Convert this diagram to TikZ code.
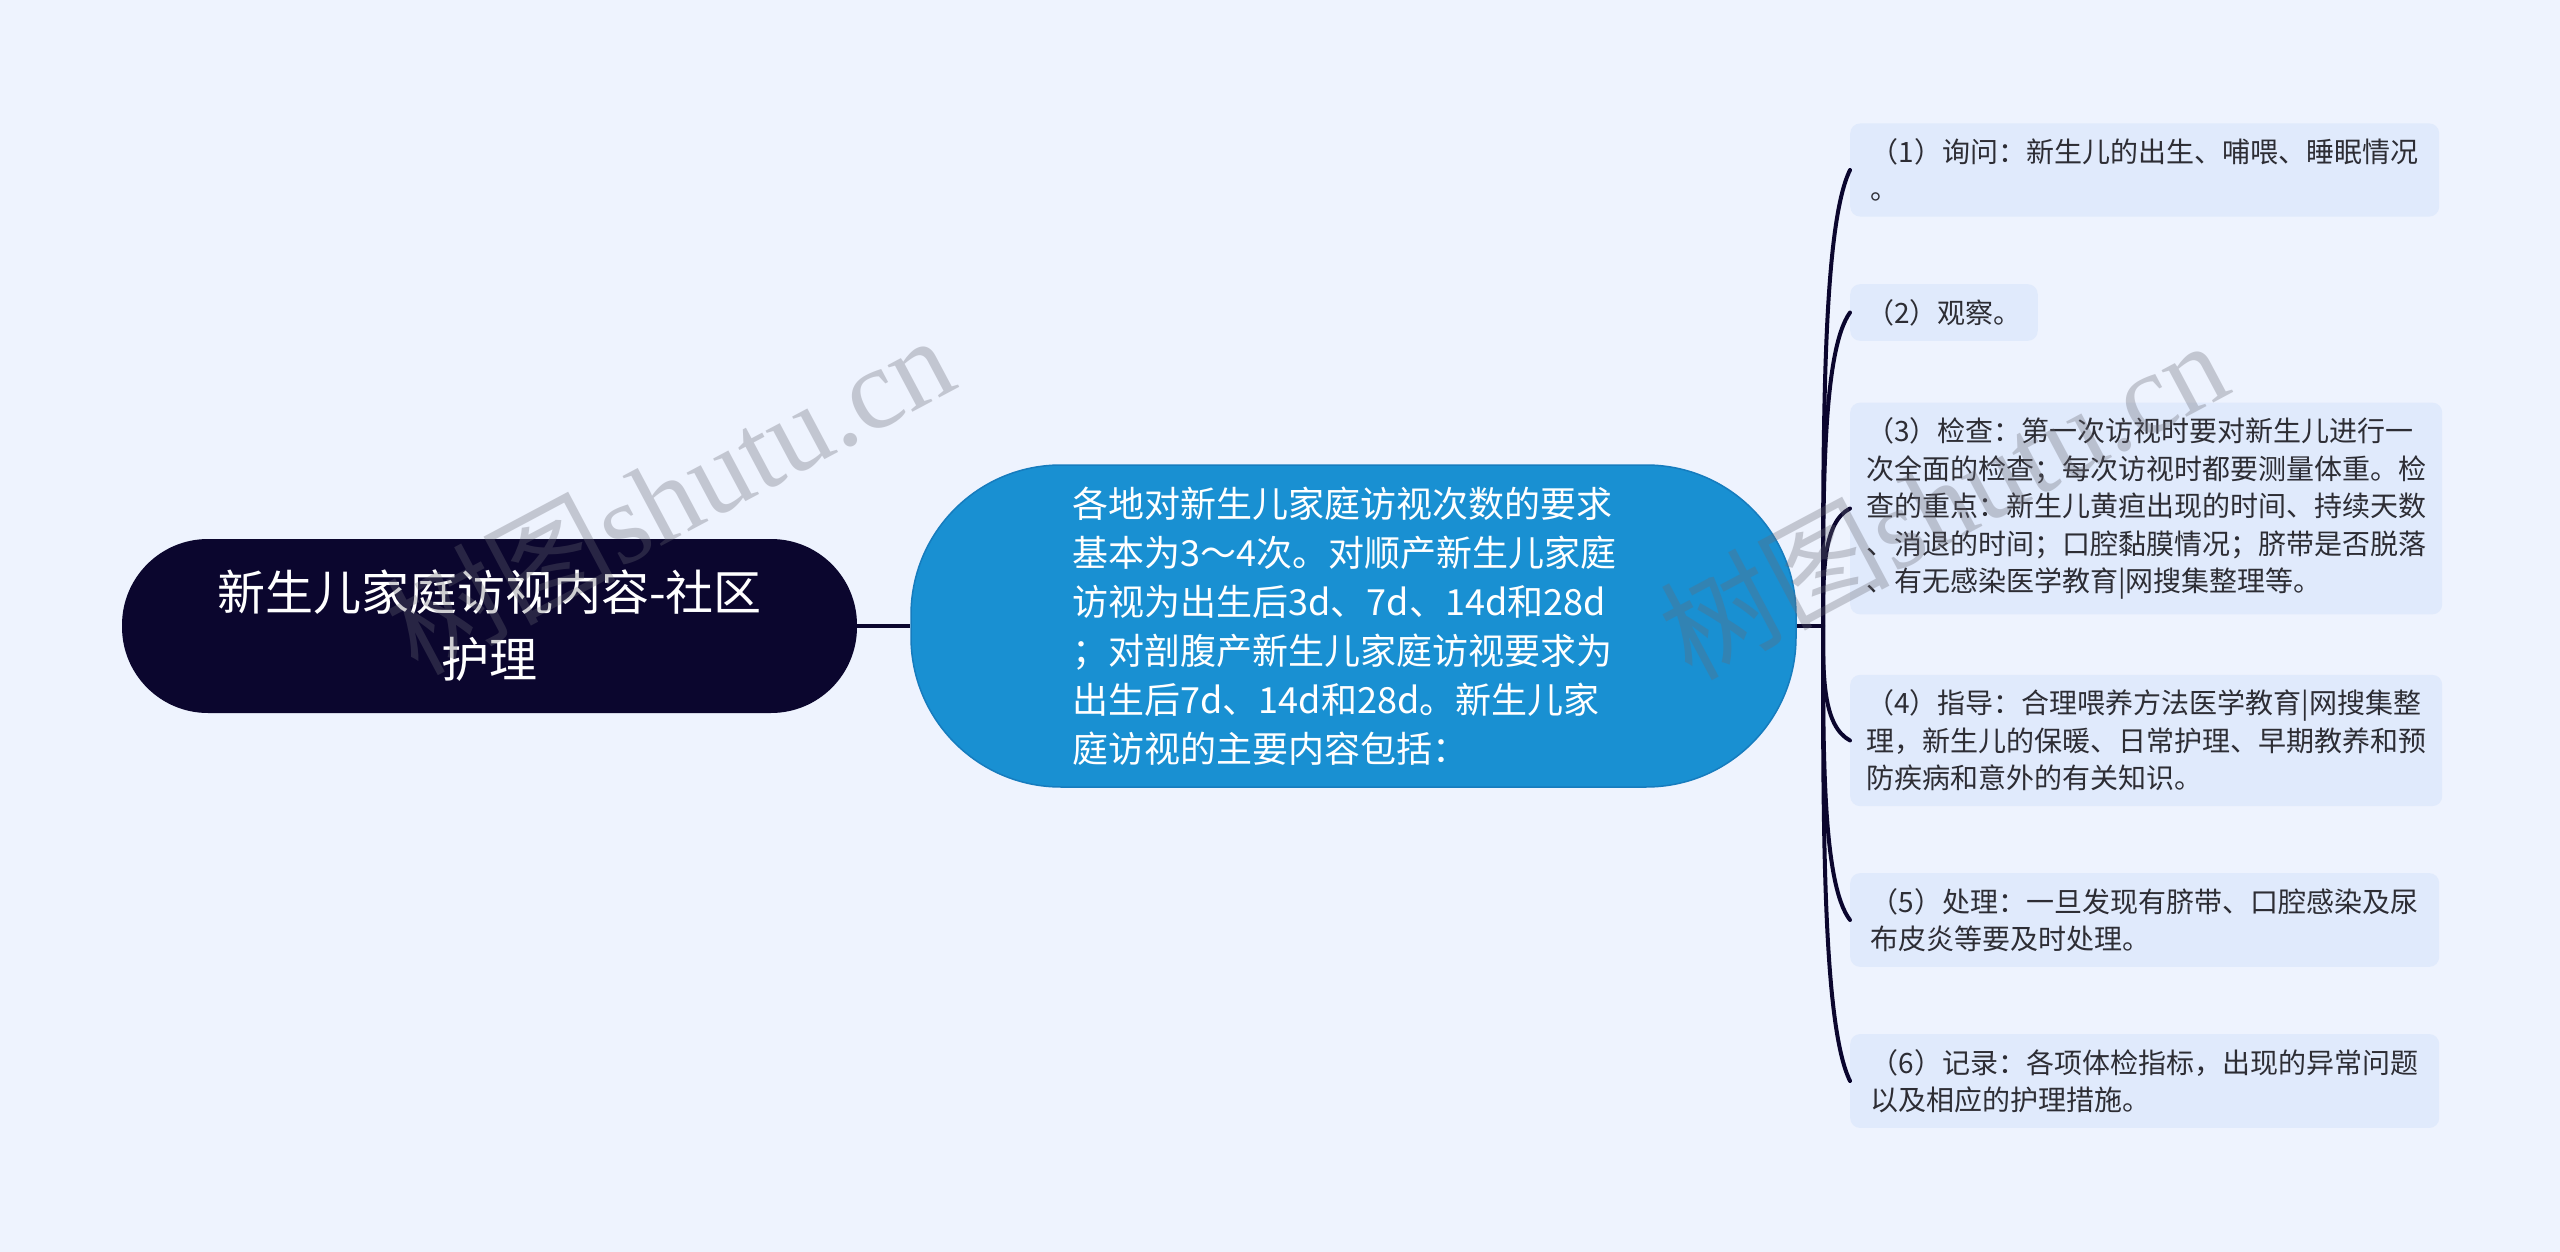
\documentclass[tikz,border=0pt]{standalone}
\usepackage{fontspec}
\newfontfamily\cjk{Noto Sans CJK SC}
\newfontfamily\wmserif{Liberation Serif}
\definecolor{bg}{RGB}{238,243,254}
\definecolor{navy}{RGB}{11,6,46}
\definecolor{cblue}{RGB}{25,144,210}
\definecolor{cborder}{RGB}{22,124,190}
\definecolor{boxfill}{RGB}{224,234,252}
\definecolor{txt}{RGB}{45,45,52}
\definecolor{wm}{RGB}{104,104,115}
\begin{document}
\begin{tikzpicture}[x=1pt,y=-1pt,
  rootnode/.style={fill=navy, rounded corners=86pt, minimum width=735pt, minimum height=174pt,
    text=white, align=center, inner sep=0pt, font=\cjk\fontsize{48}{67}\selectfont},
  midnode/.style={fill=cblue, draw=cborder, line width=1.5pt, rounded corners=150pt,
    minimum width=885pt, minimum height=322pt, text=white, align=left, inner sep=0pt,
    text width=562pt, font=\cjk\fontsize{36}{49}\selectfont},
  leafbox/.style={fill=boxfill, rounded corners=10pt, inner xsep=16pt, inner ysep=15pt,
    align=left, anchor=west, text=txt, font=\cjk\fontsize{28}{37.5}\selectfont},
  wide/.style={minimum width=589pt},
  link/.style={draw=navy, line width=4pt},
  branch/.style={draw=navy, line width=4pt, line cap=round},
  wmark/.style={text=wm, text opacity=0.32, font=\fontsize{115}{120}\selectfont, inner sep=0pt}
]
\useasboundingbox[fill=bg] (0,0) rectangle (2560,1252);

\node[rootnode] (root) at (489.5,626) {新生儿家庭访视内容-社区\\护理};
\node[midnode] (mid) at (1353.5,626) {各地对新生儿家庭访视次数的要求\\基本为3～4次。对顺产新生儿家庭\\访视为出生后3d、7d、14d和28d\\；对剖腹产新生儿家庭访视要求为\\出生后7d、14d和28d。新生儿家\\庭访视的主要内容包括：};

\node[leafbox, wide] (b1) at (1850,170) {（1）询问：新生儿的出生、哺喂、睡眠情况\\。};
\node[leafbox] (b2) at (1850,312.5) {（2）观察。};
\node[leafbox, wide] (b3) at (1850,508.5) {（3）检查：第一次访视时要对新生儿进行一\\次全面的检查；每次访视时都要测量体重。检\\查的重点：新生儿黄疸出现的时间、持续天数\\、消退的时间；口腔黏膜情况；脐带是否脱落\\、有无感染医学教育|网搜集整理等。};
\node[leafbox, wide] (b4) at (1850,740.5) {（4）指导：合理喂养方法医学教育|网搜集整\\理，新生儿的保暖、日常护理、早期教养和预\\防疾病和意外的有关知识。};
\node[leafbox, wide] (b5) at (1850,920) {（5）处理：一旦发现有脐带、口腔感染及尿\\布皮炎等要及时处理。};
\node[leafbox, wide] (b6) at (1850,1081) {（6）记录：各项体检指标，出现的异常问题\\以及相应的护理措施。};

\coordinate (J) at (1823,626);
\draw[link] (root.east) -- (mid.west);
\draw[link] (mid.east) -- (J);
\draw[branch] (J) .. controls (1823,421) and (1823,225) .. (b1.west);
\draw[branch] (J) .. controls (1823,485) and (1823,350) .. (b2.west);
\draw[branch] (J) .. controls (1823,573) and (1823,522) .. (b3.west);
\draw[branch] (J) .. controls (1823,677) and (1823,726) .. (b4.west);
\draw[branch] (J) .. controls (1823,758) and (1823,885) .. (b5.west);
\draw[branch] (J) .. controls (1823,831) and (1823,1026) .. (b6.west);

\node[wmark, rotate=28] (wm1) at (669,493) {{\cjk 树图}{\wmserif shutu.cn}};
\node[wmark, rotate=28] (wm2) at (1943,498) {{\cjk 树图}{\wmserif shutu.cn}};
\end{tikzpicture}
\end{document}
